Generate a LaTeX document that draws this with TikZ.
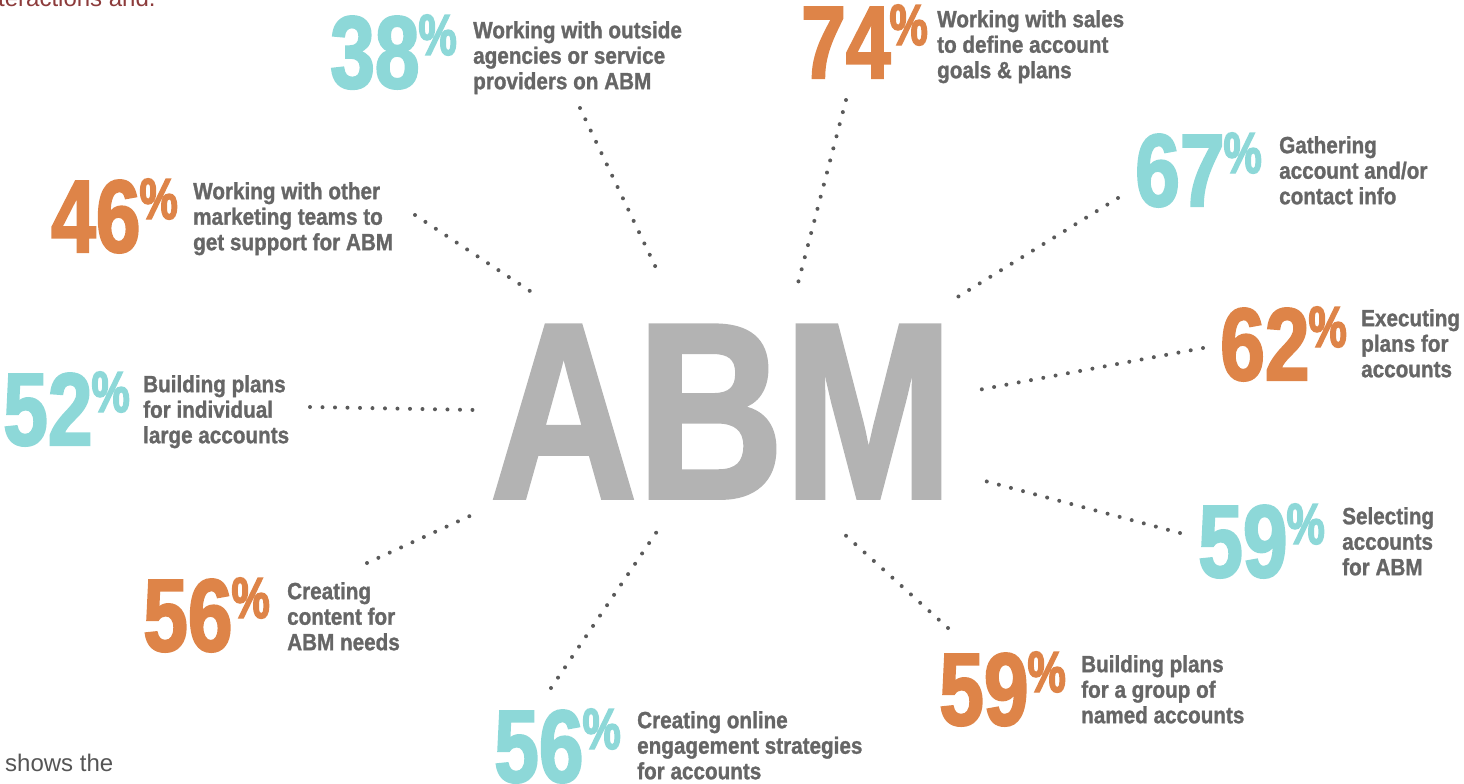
\documentclass[tikz,border=0pt]{standalone}
\usepackage{fontspec}
\setmainfont{Liberation Sans}
\newfontfamily\numf{Liberation Sans}[FakeStretch=0.78,FakeBold=2]
\newfontfamily\pctf{Liberation Sans}[FakeStretch=0.74,FakeBold=2.5]
\newfontfamily\labf{Liberation Sans}[FakeStretch=0.88,FakeBold=1.2]
\newfontfamily\abmf{Liberation Sans}[FakeStretch=0.81,FakeBold=1.5]
\definecolor{cTeal}{HTML}{8DD8D8}
\definecolor{cOrange}{HTML}{DE8448}
\definecolor{cLab}{HTML}{666666}
\definecolor{cAbm}{HTML}{B3B3B3}
\definecolor{cDot}{HTML}{5A5A5A}
\definecolor{cRed}{HTML}{8C3B3B}
\definecolor{cBody}{HTML}{555555}
\newcommand{\pctsign}{\kern-1pt\raisebox{33pt}{\pctf\bfseries\fontsize{58}{58}\selectfont\%}}
\tikzset{
  num/.style={anchor=base west, inner sep=0pt, font=\numf\bfseries\fontsize{103}{103}\selectfont},
  lab/.style={anchor=north west, inner sep=0pt, align=left, text=cLab, font=\labf\bfseries\fontsize{23.5}{25.5}\selectfont},
  dotline/.style={draw=cDot, line width=4pt, line cap=round, dash pattern=on 0pt off 12.5pt},
  body/.style={anchor=base west, inner sep=0pt, font=\fontsize{24}{27}\selectfont},
}
\begin{document}
\begin{tikzpicture}[x=1pt,y=-1pt]
\useasboundingbox (0,0) rectangle (1464,784);
% center
\node[anchor=base west, inner sep=0pt, text=cAbm, font=\abmf\bfseries\fontsize{251}{251}\selectfont] (abm) at (490,498) {ABM};
% fragments of body text
\node[body, text=cRed] (frag1) at (-2,7) {teractions and.};
\node[body, text=cBody] (frag2) at (5,771) {shows the};
% numbers
\node[num, text=cTeal]   (n38)  at (330,88)  {38\pctsign};
\node[num, text=cOrange] (n74)  at (801,78)  {74\pctsign};
\node[num, text=cOrange] (n46)  at (51,252)  {46\pctsign};
\node[num, text=cTeal]   (n67)  at (1135,206) {67\pctsign};
\node[num, text=cOrange] (n62)  at (1220,380) {62\pctsign};
\node[num, text=cTeal]   (n52)  at (3,445)   {52\pctsign};
\node[num, text=cTeal]   (n59r) at (1198,577) {59\pctsign};
\node[num, text=cOrange] (n56l) at (143,651) {56\pctsign};
\node[num, text=cOrange] (n59b) at (939,725) {59\pctsign};
\node[num, text=cTeal]   (n56b) at (494,782) {56\pctsign};
% labels
\node[lab] (l38)  at (473,21)  {Working with outside\\agencies or service\\providers on ABM};
\node[lab] (l74)  at (937,10)  {Working with sales\\to define account\\goals \& plans};
\node[lab] (l46)  at (193,182) {Working with other\\marketing teams to\\get support for ABM};
\node[lab] (l67)  at (1279,136) {Gathering\\account and/or\\contact info};
\node[lab] (l62)  at (1361,309) {Executing\\plans for\\accounts};
\node[lab] (l52)  at (143,375) {Building plans\\for individual\\large accounts};
\node[lab] (l59r) at (1342,507) {Selecting\\accounts\\for ABM};
\node[lab] (l56l) at (287,582) {Creating\\content for\\ABM needs};
\node[lab] (l59b) at (1081,655) {Building plans\\for a group of\\named accounts};
\node[lab] (l56b) at (637,711) {Creating online\\engagement strategies\\for accounts};
% connector end points
\coordinate (a38)  at (580,108);  \coordinate (b38)  at (657,270);
\coordinate (a74)  at (846,100);  \coordinate (b74)  at (797,287);
\coordinate (a46)  at (415,215);  \coordinate (b46)  at (533,293);
\coordinate (a67)  at (1118,198); \coordinate (b67)  at (956,298);
\coordinate (a62)  at (1203,348); \coordinate (b62)  at (978,390);
\coordinate (a52)  at (310,407);  \coordinate (b52)  at (476,410);
\coordinate (a59r) at (1180,533); \coordinate (b59r) at (985,481);
\coordinate (a56l) at (367,563);  \coordinate (b56l) at (472,515);
\coordinate (a59b) at (948,628);  \coordinate (b59b) at (843,533);
\coordinate (a56b) at (551,688);  \coordinate (b56b) at (660,527);
% connectors
\draw[dotline] (a38) -- (b38);
\draw[dotline] (a74) -- (b74);
\draw[dotline] (a46) -- (b46);
\draw[dotline] (a67) -- (b67);
\draw[dotline] (a62) -- (b62);
\draw[dotline] (a52) -- (b52);
\draw[dotline] (a59r) -- (b59r);
\draw[dotline] (a56l) -- (b56l);
\draw[dotline] (a59b) -- (b59b);
\draw[dotline] (a56b) -- (b56b);
\end{tikzpicture}
\end{document}
